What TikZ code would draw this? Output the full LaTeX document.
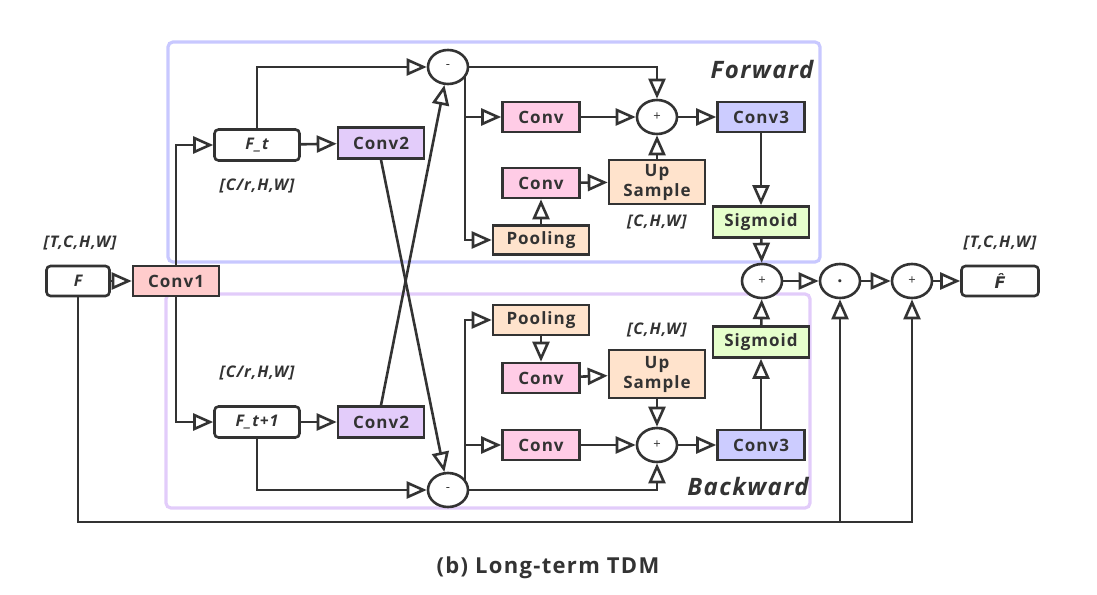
\documentclass[tikz,border=0pt]{standalone}
\usepackage{fontspec}
\setmainfont{Open Sans}[LetterSpace=6]
\newfontfamily\djv{DejaVu Sans}
\usetikzlibrary{arrows.meta,shapes.geometric}
\definecolor{lc}{HTML}{333333}
\definecolor{fwc}{HTML}{C8C8FF}
\definecolor{bwc}{HTML}{E2CCFA}
\definecolor{cA}{HTML}{FFCCCC}
\definecolor{cB}{HTML}{E3CCFA}
\definecolor{cC}{HTML}{FFCCE6}
\definecolor{cP}{HTML}{FFE3CC}
\definecolor{cT}{HTML}{CCCCFF}
\definecolor{cS}{HTML}{E6FFCC}
\begin{document}
\begin{tikzpicture}[x=1pt,y=-1pt,
 arr/.style={draw=lc, line width=2.6pt, -{Triangle[open,length=20pt,width=17pt,line width=2.6pt,fill=white]}},
 ln/.style={draw=lc, line width=2.6pt},
 blk/.style={draw=lc, line width=2.6pt, rectangle, inner sep=0pt, text=lc, align=center,
   font=\fontsize{17}{20}\selectfont\bfseries},
 rblk/.style={blk, rounded corners=4pt, fill=white, font=\fontsize{16}{19}\selectfont\bfseries\itshape},
 op/.style={draw=lc, line width=2.6pt, ellipse, minimum width=40pt, minimum height=34pt,
   inner sep=0pt, fill=white, text=lc, font=\fontsize{13}{15}\selectfont},
 dim/.style={text=lc, font=\fontsize{16}{19}\selectfont\bfseries\itshape},
 ttl/.style={text=lc, font=\fontsize{24}{28}\selectfont\bfseries\itshape},
]
\useasboundingbox (0,0) rectangle (1097,594);
% frames
\draw[draw=fwc, line width=3.2pt, rounded corners=5pt] (168,42) rectangle (820,262);
\draw[draw=bwc, line width=3.2pt, rounded corners=5pt] (166,294) rectangle (810,508);

% left
\node[rblk, minimum width=63pt, minimum height=30pt] (F) at (78,281) {F};
\node[blk, fill=cA, minimum width=86pt, minimum height=30pt] (conv1) at (176,281) {Conv1};
\node[rblk, minimum width=85pt, minimum height=31pt] (ft) at (257,145) {F\_t};
\node[rblk, minimum width=85pt, minimum height=31pt] (ft1) at (257,422) {F\_t+1};
\node[blk, fill=cB, minimum width=86pt, minimum height=31pt] (c2t) at (381,143) {Conv2};
\node[blk, fill=cB, minimum width=86pt, minimum height=31pt] (c2b) at (381,422) {Conv2};
\node[op] (mt) at (448,67) {-};
\node[op] (mb) at (448,490) {-};

% forward
\node[blk, fill=cC, minimum width=77pt, minimum height=30pt] (cva) at (541,117) {Conv};
\node[blk, fill=cC, minimum width=77pt, minimum height=30pt] (cvb) at (541,183) {Conv};
\node[blk, fill=cP, minimum width=96pt, minimum height=29pt] (pla) at (541,240) {Pooling};
\node[blk, fill=cP, minimum width=96pt, minimum height=44pt] (upa) at (657,182) {Up\\Sample};
\node[op] (pa) at (657,117) {+};
\node[blk, fill=cT, minimum width=87pt, minimum height=30pt] (c3a) at (761,117) {Conv3};
\node[blk, fill=cS, minimum width=96pt, minimum height=31pt] (sga) at (761,222) {Sigmoid};

% backward
\node[blk, fill=cP, minimum width=96pt, minimum height=30pt] (plb) at (541,320) {Pooling};
\node[blk, fill=cC, minimum width=77pt, minimum height=30pt] (cvd) at (541,378) {Conv};
\node[blk, fill=cP, minimum width=96pt, minimum height=48pt] (upb) at (657,374) {Up\\Sample};
\node[blk, fill=cC, minimum width=77pt, minimum height=30pt] (cvc) at (541,445) {Conv};
\node[op] (pb) at (657,445) {+};
\node[blk, fill=cT, minimum width=87pt, minimum height=30pt] (c3b) at (761,445) {Conv3};
\node[blk, fill=cS, minimum width=96pt, minimum height=31pt] (sgb) at (761,342) {Sigmoid};

% right
\node[op] (pr) at (762,281) {+};
\node[op, font=\fontsize{18}{20}\selectfont\bfseries] (pd) at (840,281) {.};
\node[op] (pp) at (912,281) {+};
\node[rblk, minimum width=77pt, minimum height=30pt, font=\fontsize{16}{19}\selectfont\djv\bfseries\itshape] (Fh) at (1000,281) {F̂};

% labels
\node[dim] (l1) at (80,243) {[T,C,H,W]};
\node[dim] (l2) at (1000,243) {[T,C,H,W]};
\node[dim] (l3) at (257,186) {[C/r,H,W]};
\node[dim] (l4) at (257,373) {[C/r,H,W]};
\node[dim] (l5) at (657,222) {[C,H,W]};
\node[dim] (l6) at (657,330) {[C,H,W]};
\node[ttl] (tf) at (762,69) {Forward};
\node[ttl] (tb) at (748,486) {Backward};
\node[text=lc, font=\fontsize{22}{26}\selectfont\bfseries] (cap) at (548,568) {(b) Long-term TDM};

% coordinates
\coordinate (vt) at (465,76);
\coordinate (vb) at (465,481);
\coordinate (fbm) at (840,522);

% connectors left
\draw[arr] (F) -- (conv1);
\draw[arr] (conv1.north) |- (ft.west);
\draw[arr] (conv1.south) |- (ft1.west);
\draw[arr] (ft) -- (c2t);
\draw[arr] (ft1) -- (c2b);
\draw[arr] (ft.north) |- (mt.west);
\draw[arr] (ft1.south) |- (mb.west);
\draw[arr] (c2t.south) -- (mb);
\draw[arr] (c2b.north) -- (mt);

% forward connectors
\draw[arr] (mt.east) -| (pa.north);
\draw[arr] (vt) |- (cva.west);
\draw[arr] (vt) |- (pla.west);
\draw[arr] (pla) -- (cvb);
\draw[arr] (cvb) -- (upa);
\draw[arr] (upa) -- (pa);
\draw[arr] (cva) -- (pa);
\draw[arr] (pa) -- (c3a);
\draw[arr] (c3a) -- (sga);
\draw[arr] (sga) -- (pr);

% backward connectors
\draw[arr] (mb.east) -| (pb.south);
\draw[arr] (vb) |- (cvc.west);
\draw[arr] (vb) |- (plb.west);
\draw[arr] (plb) -- (cvd);
\draw[arr] (cvd) -- (upb);
\draw[arr] (upb) -- (pb);
\draw[arr] (cvc) -- (pb);
\draw[arr] (pb) -- (c3b);
\draw[arr] (c3b) -- (sgb);
\draw[arr] (sgb) -- (pr);

% right connectors
\draw[arr] (pr) -- (pd);
\draw[arr] (pd) -- (pp);
\draw[arr] (pp) -- (Fh);
\draw[arr] (F.south) |- (fbm) -| (pp.south);
\draw[arr] (fbm) -- (pd.south);
\end{tikzpicture}
\end{document}
